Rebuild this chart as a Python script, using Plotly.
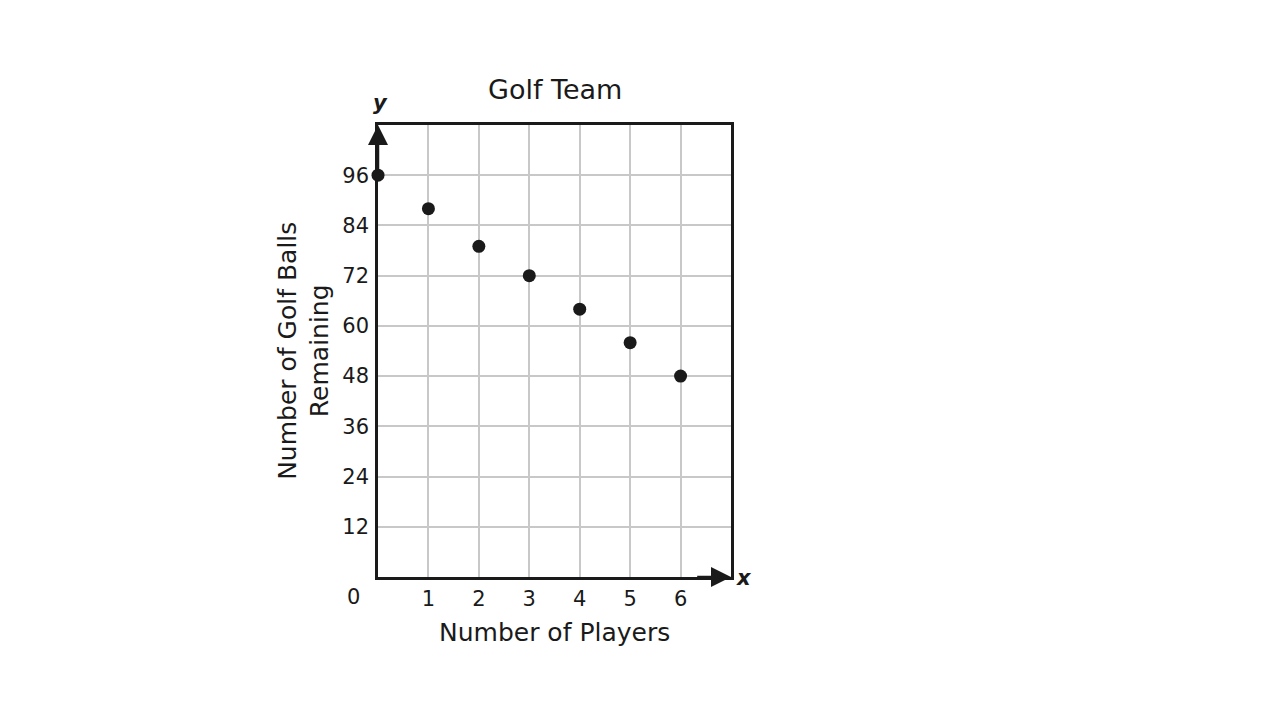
import plotly.graph_objects as go

players = [0, 1, 2, 3, 4, 5, 6]
balls_left = [96, 88, 79, 72, 64, 56, 48]

x_ticks = [1, 2, 3, 4, 5, 6]
y_ticks = [12, 24, 36, 48, 60, 72, 84, 96]

fnt = "DejaVu Sans"
ink = "#1a1a1a"

fig = go.Figure(go.Scatter(x=players, y=balls_left, mode="markers",
                           marker=dict(color=ink, size=13), cliponaxis=False))

fig.update_layout(
    width=1280, height=720,
    paper_bgcolor="white", plot_bgcolor="white",
    margin=dict(l=370, r=557, t=117, b=151),
    showlegend=False,
    font=dict(family=fnt, size=21, color=ink),
)
fig.update_xaxes(range=[0, 7], tickvals=x_ticks, showgrid=True, gridcolor="#c8c8c8", gridwidth=2,
                 showline=True, linecolor=ink, linewidth=2.5, mirror=True, zeroline=False,
                 ticks="", ticklabelstandoff=1, tickfont=dict(size=21))
fig.update_yaxes(range=[0, 108], tickvals=y_ticks, showgrid=True, gridcolor="#c8c8c8", gridwidth=2,
                 showline=True, linecolor=ink, linewidth=2.5, mirror=True, zeroline=False,
                 ticks="", ticklabelstandoff=2, tickfont=dict(size=21))

notes = [
    dict(text="Golf Team", x=0.5, y=1.0796, size=27),
    dict(text="Number of Players", x=0.5, y=-0.1217, size=25),
    dict(text="0", x=-0.068, y=-0.044, size=21),
    dict(text="<b><i>y</i></b>", x=0.006, y=1.0487, size=21),
    dict(text="<b><i>x</i></b>", x=1.037, y=-0.002, size=21),
]
for n in notes:
    fig.add_annotation(text=n["text"], x=n["x"], y=n["y"], xref="paper", yref="paper",
                       showarrow=False, font=dict(family=fnt, size=n["size"], color=ink),
                       xanchor="center", yanchor="middle")

fig.add_annotation(text="Number of Golf Balls<br>Remaining", x=-0.21, y=0.5, xref="paper", yref="paper",
                   showarrow=False, textangle=-90, font=dict(family=fnt, size=25, color=ink),
                   xanchor="center", yanchor="middle")

# axis arrows
fig.add_annotation(x=0, y=108, ax=0, ay=96, xref="x", yref="y", axref="x", ayref="y",
                   text="", showarrow=True, arrowhead=2, arrowsize=1.6, arrowwidth=2.5, arrowcolor=ink)
fig.add_annotation(x=7, y=0, ax=6.3, ay=0, xref="x", yref="y", axref="x", ayref="y",
                   text="", showarrow=True, arrowhead=2, arrowsize=1.6, arrowwidth=2.5, arrowcolor=ink)

fig.write_html("out.html")
